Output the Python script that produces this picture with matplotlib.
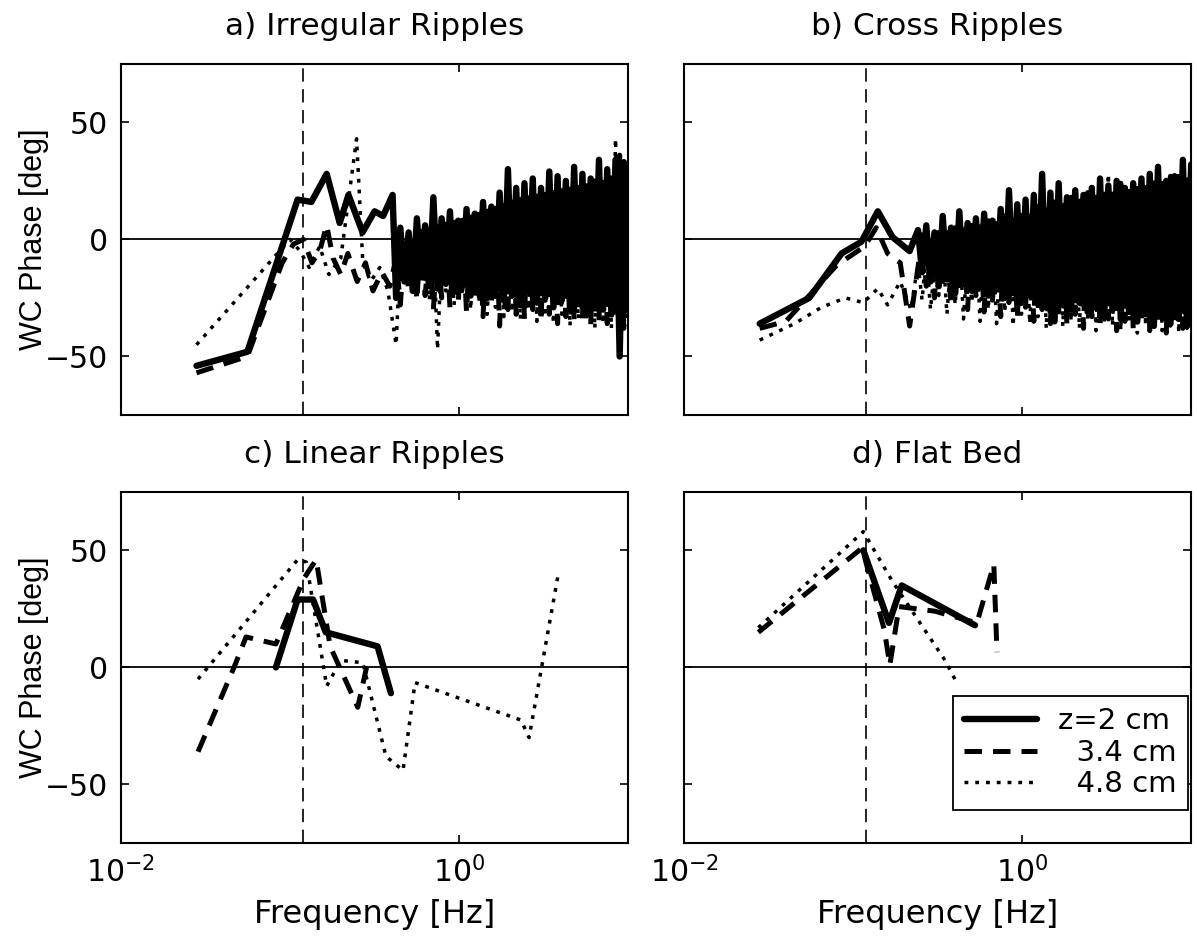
import numpy as np
import matplotlib
matplotlib.use("Agg")
import matplotlib.pyplot as plt

plt.rcParams["font.family"] = "DejaVu Sans"
plt.rcParams["mathtext.fontset"] = "dejavusans"

# peak wave frequency (vertical reference line)
f_peak = 0.12

# shared high-frequency bins of the spectra [Hz]
f_hf = [0.242, 0.256, 0.271, 0.287, 0.303, 0.321, 0.339, 0.359, 0.380, 0.402,
        0.425, 0.450, 0.476, 0.504, 0.533, 0.564, 0.596, 0.631, 0.668, 0.706,
        0.747, 0.790, 0.836, 0.885, 0.936, 0.991, 1.048, 1.109, 1.173, 1.241,
        1.313, 1.389, 1.470, 1.555, 1.645, 1.741, 1.842, 1.949, 2.062, 2.182,
        2.308, 2.442, 2.584, 2.734, 2.892, 3.060, 3.238, 3.425, 3.624, 3.834,
        4.057, 4.292, 4.541, 4.805, 5.083, 5.378, 5.690, 6.020, 6.368, 6.738,
        7.129, 7.542, 7.980, 8.443, 8.933, 9.452, 10.0]

# a) Irregular ripples
a_solid_lf_f = [0.028, 0.056, 0.111, 0.134, 0.165, 0.197, 0.222, 0.269, 0.317, 0.356, 0.405]
a_solid_lf = [-54, -48, 17, 16, 28, 7, 19, 3, 12, 10, 19]
a_solid_hf = [-25, 5, -18, 3, -22, 9, -15, 6, -20, 18,
              -21, 9, -19, 12, -22, 8, -20, 13, -24, 11,
              -22, 16, -25, 14, -23, 20, -26, 30, -24, 22,
              -28, 24, -22, 26, -27, 22, -25, 29, -29, 27,
              -26, 25, -30, 31, -27, 28, -31, 26, -28, 34,
              -30, 30, -32, 34, -50, 33, -30]
a_dash_lf_f = [0.028, 0.056, 0.09, 0.105, 0.12, 0.135, 0.15, 0.165, 0.18, 0.2,
               0.22, 0.25, 0.28, 0.31, 0.35, 0.39]
a_dash_lf = [-57, -50, -10, -2, 0, -10, -5, 6, -8, -15, -6, -18, -10, -22, -14, -20]
a_dash_hf = [-8, -28, -3, -22, -6, -26, 2, -24, -4, -30,
             0, -25, 4, -29, -2, -27, 6, -31, 3, -26,
             8, -33, 5, -28, 12, -37, 9, -30, 14, -32,
             10, -34, 16, -30, 12, -35, 18, -32, 15, -36,
             20, -33, 17, -35, 22, -34, 19, -37, 25, -35,
             22, -36, 28, -34, 36, -38, 26]
a_dot_lf_f = [0.028, 0.1, 0.115, 0.13, 0.15, 0.17, 0.2, 0.248, 0.27, 0.3, 0.34, 0.38]
a_dot_lf = [-45, 0, -5, -12, -3, -15, -8, 43, -10, -18, -12, -22]
a_dot_hf = [-45, -5, -20, -8, -24, -3, -18, -10, -26, 0,
            -47, -6, -22, 2, -28, -4, -24, 5, -30, 2,
            -27, 8, -32, 4, -29, 10, -33, 6, -31, 12,
            -34, 9, -30, 14, -35, 11, -33, 16, -36, 13,
            -32, 18, -37, 15, -34, 20, -35, 17, -38, 22,
            -36, 19, -38, 43, -36, 24, -37]
# band where the three curves overlap completely
a_core_f = [0.55, 0.7, 0.85, 1.0, 1.3, 1.7, 2.2, 3.0, 4.0, 5.5, 7.5, 10]
a_core_hi = [4, 6, 8, 9, 12, 15, 18, 20, 22, 24, 26, 27]
a_core_lo = [-17, -18, -19, -20, -21, -22, -23, -24, -25, -26, -27, -28]

# b) Cross ripples
b_solid_lf_f = [0.028, 0.055, 0.0855, 0.112, 0.14, 0.171, 0.216]
b_solid_lf = [-36, -25, -6, -1, 12, 1, -5]
b_solid_hf = [4, -14, 6, -18, 3, -20, 10, -17, 5, -23,
              12, -19, 7, -22, 9, -20, 11, -24, 8, -21,
              13, -25, 21, -23, 15, -26, 17, -24, 19, -27,
              28, -29, 20, -35, 24, -28, 18, -30, 21, -27,
              19, -31, 22, -29, 26, -33, 23, -30, 25, -34,
              22, -31, 24, -35, 26, -32, 28, -37, 31, -33,
              25, -36, 27, -34, 34, -37, 32]
b_dash_lf_f = [0.028, 0.04, 0.08, 0.117, 0.137, 0.16, 0.19, 0.216]
b_dash_lf = [-38, -35, -11, -3, 5, -6, -10, -37]
b_dash_hf = [-12, 2, -20, -5, -25, 3, -18, -2, -28, 5,
             -22, 1, -30, 6, -24, 0, -31, 8, -26, 3,
             -33, 10, -27, 5, -34, 12, -29, 7, -35, 14,
             -30, 9, -36, 16, -31, 12, -37, 18, -32, 14,
             -38, 20, -33, 16, -37, 22, -34, 18, -39, 24,
             -35, 20, -38, 25, -36, 22, -39, 26, -35, 24,
             -40, 27, -36, 28, -38, 26, -36]
b_dot_lf_f = [0.028, 0.045, 0.065, 0.09, 0.115, 0.14, 0.16, 0.19, 0.22]
b_dot_lf = [-43, -36, -29, -25, -27, -21, -28, -18, -30]
b_dot_hf = [-10, -26, -5, -30, -12, -24, -3, -32, -8, -28,
            0, -34, -6, -27, 2, -35, -4, -30, 5, -36,
            -2, -31, 7, -37, 1, -32, 9, -36, 3, -33,
            11, -38, 5, -34, 13, -37, 8, -35, 15, -38,
            10, -34, 17, -39, 12, -36, 28, -37, 14, -39,
            18, -36, 16, -40, 20, -37, 18, -38, 22, -39,
            20, -37, 24, -40, 22, -38, 25]
b_core_f = [0.27, 0.35, 0.5, 0.7, 1.0, 1.4, 2.0, 3.0, 4.5, 6.5, 10]
b_core_hi = [0, 4, 6, 8, 10, 14, 17, 20, 22, 25, 27]
b_core_lo = [-14, -18, -20, -22, -24, -26, -27, -28, -30, -31, -32]

# c) Linear ripples
c_solid_f = [0.0826, 0.111, 0.137, 0.163, 0.33, 0.396]
c_solid = [0, 29, 29, 15, 9, -11]
c_dash_f = [0.0286, 0.0467, 0.055, 0.0826, 0.121, 0.143, 0.173, 0.252, 0.288]
c_dash = [-36, 0, 13, 10, 38, 46, 9, -17, 2]
c_dot_f = [0.0286, 0.111, 0.125, 0.165, 0.2, 0.27, 0.37, 0.467, 0.55, 2.33, 2.6, 3.85]
c_dot = [-5, 46, 45, -8, 3, 2, -38, -44, -6.5, -22.5, -30, 39]

# d) Flat bed
d_solid_f = [0.115, 0.163, 0.194, 0.526]
d_solid = [50, 19, 35, 18]
d_dash_f = [0.0275, 0.113, 0.153, 0.165, 0.187, 0.305, 0.54, 0.68, 0.71]
d_dash = [15, 51, 16, 1, 26, 24, 19, 44, 6.5]
d_dot_f = [0.0275, 0.115, 0.17, 0.21, 0.35, 0.4]
d_dot = [17, 58, 37, 27, 3, -5]

labels = ["z=2 cm", "  3.4 cm", "  4.8 cm"]

solid_kw = dict(color="k", lw=4.6, ls="-", solid_joinstyle="round", solid_capstyle="round")
dash_kw = dict(color="k", lw=3.6, ls=(0, (3.5, 2.2)), dash_joinstyle="round")
dot_kw = dict(color="k", lw=2.5, ls=(0, (1.1, 2.0)), dash_joinstyle="round")

fig = plt.figure(figsize=(11.97, 9.44), dpi=100)
w, h = 0.4236, 0.3720
ax_a = fig.add_axes([0.1010, 0.5604, w, h])
ax_b = fig.add_axes([0.5715, 0.5604, w, h])
ax_c = fig.add_axes([0.1010, 0.1070, w, h])
ax_d = fig.add_axes([0.5715, 0.1070, w, h])

a_hf_f = f_hf[10:]
panels = [
    (ax_a, "a) Irregular Ripples", [
        (a_solid_lf_f + a_hf_f, a_solid_lf + a_solid_hf),
        (a_dash_lf_f + a_hf_f, a_dash_lf + a_dash_hf),
        (a_dot_lf_f + a_hf_f, a_dot_lf + a_dot_hf)], (a_core_f, a_core_lo, a_core_hi)),
    (ax_b, "b) Cross Ripples", [
        (b_solid_lf_f + f_hf, b_solid_lf + b_solid_hf),
        (b_dash_lf_f + f_hf, b_dash_lf + b_dash_hf),
        (b_dot_lf_f + f_hf, b_dot_lf + b_dot_hf)], (b_core_f, b_core_lo, b_core_hi)),
    (ax_c, "c) Linear Ripples", [
        (c_solid_f, c_solid), (c_dash_f, c_dash), (c_dot_f, c_dot)], None),
    (ax_d, "d) Flat Bed", [
        (d_solid_f, d_solid), (d_dash_f, d_dash), (d_dot_f, d_dot)], None),
]

for ax, title, series, core in panels:
    handles = []
    for (f, v), kw, lab in zip(series, [solid_kw, dash_kw, dot_kw], labels):
        ln, = ax.plot(f, v, label=lab, **kw)
        handles.append(ln)
    if core is not None:
        ax.fill_between(core[0], core[1], core[2], color="k", lw=0, zorder=2)
    ax.axhline(0, color="k", lw=1.3, zorder=1)
    ax.axvline(f_peak, color="k", lw=1.2, ls=(0, (8, 4.5)), zorder=1)
    ax.set_xscale("log")
    ax.set_xlim(0.01, 10)
    ax.set_ylim(-75, 75)
    ax.set_xticks([0.01, 1])
    ax.minorticks_off()
    ax.set_yticks([-50, 0, 50])
    ax.tick_params(direction="in", length=6, width=1.2, top=True, right=True,
                   labelsize=21.5, pad=9)
    for s in ax.spines.values():
        s.set_linewidth(1.5)
    ax.set_title(title, fontsize=22.5, pad=21)

for ax in (ax_a, ax_b):
    ax.tick_params(labelbottom=False)
for ax in (ax_b, ax_d):
    ax.tick_params(labelleft=False)
for ax in (ax_a, ax_c):
    ax.set_ylabel("WC Phase [deg]", fontsize=22, family="Liberation Sans")
    ax.yaxis.set_label_coords(-0.142, 0.5)
for ax in (ax_c, ax_d):
    ax.set_xlabel("Frequency [Hz]", fontsize=23)
    ax.xaxis.set_label_coords(0.5, -0.16)

leg = fig.legend(handles=handles, labels=labels, loc="lower right",
                 bbox_to_anchor=(0.9925, 0.142), bbox_transform=fig.transFigure,
                 borderaxespad=0, fontsize=21, handlelength=2.5, handletextpad=0.7,
                 borderpad=0.4, labelspacing=0.12, fancybox=False, framealpha=1,
                 edgecolor="k")
leg.get_frame().set_linewidth(1.3)

fig.savefig("out.png", dpi=100)
